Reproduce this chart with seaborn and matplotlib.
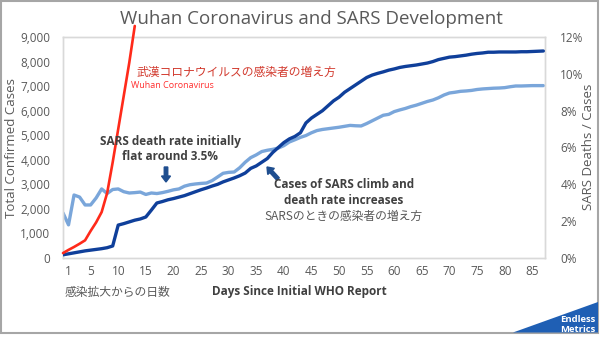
import matplotlib
matplotlib.use("Agg")
import matplotlib.pyplot as plt
import seaborn as sns
import pandas as pd
from matplotlib.patches import FancyArrow, Polygon, Rectangle

# ---------------- data ----------------
days = list(range(88))
sars_cases = [130, 170, 210, 250, 290, 320, 350, 380, 420, 490,
              1340, 1400, 1470, 1540, 1590, 1670, 1950, 2240, 2300, 2370,
              2420, 2480, 2540, 2620, 2700, 2780, 2850, 2930, 3000, 3100,
              3180, 3260, 3350, 3460, 3650, 3750, 3900, 4050, 4300, 4500,
              4700, 4850, 4950, 5100, 5500, 5700, 5850, 6000, 6200, 6400,
              6550, 6750, 6900, 7050, 7200, 7350, 7450, 7520, 7580, 7650,
              7700, 7760, 7800, 7830, 7860, 7900, 7940, 8000, 8080, 8130,
              8180, 8200, 8230, 8260, 8300, 8330, 8350, 8380, 8380, 8390,
              8390, 8390, 8390, 8400, 8400, 8410, 8420, 8430]
sars_death_rate = [2.45, 1.8, 3.42, 3.31, 2.88, 2.88, 3.26, 3.75, 3.5, 3.72,
                   3.75, 3.6, 3.53, 3.55, 3.58, 3.45, 3.53, 3.5, 3.55, 3.62,
                   3.7, 3.75, 3.9, 3.98, 4.02, 4.05, 4.07, 4.2, 4.4, 4.6,
                   4.65, 4.67, 4.9, 5.2, 5.45, 5.6, 5.78, 5.85, 5.9, 5.97,
                   6.1, 6.3, 6.42, 6.55, 6.65, 6.8, 6.92, 6.98, 7.02, 7.06,
                   7.1, 7.15, 7.2, 7.18, 7.17, 7.3, 7.45, 7.6, 7.75, 7.8,
                   7.95, 8.04, 8.12, 8.22, 8.3, 8.4, 8.5, 8.58, 8.7, 8.85,
                   8.96, 9.0, 9.05, 9.07, 9.1, 9.15, 9.18, 9.2, 9.22, 9.23,
                   9.25, 9.3, 9.34, 9.34, 9.35, 9.36, 9.36, 9.36]
wuhan_days = list(range(14))
wuhan_cases = [200, 330, 450, 580, 720, 1100, 1450, 1870, 2650, 3900,
               5250, 6600, 7950, 9450]
x_ticks = [1, 5, 10, 15, 20, 25, 30, 35, 40, 45, 50, 55, 60, 65, 70, 75, 80, 85]
x_tick_labels = [str(t) for t in x_ticks]
y_ticks = [0, 1000, 2000, 3000, 4000, 5000, 6000, 7000, 8000, 9000]
y2_ticks = [0, 2, 4, 6, 8, 10, 12]

sars_df = pd.DataFrame({"day": days, "cases": sars_cases, "rate": sars_death_rate})
wuhan_df = pd.DataFrame({"day": wuhan_days, "cases": wuhan_cases})

# ---------------- style ----------------
sns.set_theme(style="white")
plt.rcParams["font.family"] = ["Open Sans", "Noto Sans CJK JP", "DejaVu Sans"]
GRAY = "#595959"
DARK = "#0f3f9a"
LIGHT = "#7aa6da"
RED = "#ff2a1a"
ARROW = "#1f4e8f"
JP = ["Noto Sans CJK JP", "DejaVu Sans"]

W, H = 600, 337
fig = plt.figure(figsize=(6, 3.37), dpi=100)
fig.patch.set_facecolor("white")

L, R, T, B = 63, 545, 37, 258
ax = fig.add_axes([L / W, 1 - B / H, (R - L) / W, (B - T) / H])
ax2 = ax.twinx()

sns.lineplot(data=sars_df, x="day", y="rate", ax=ax2, color=LIGHT, linewidth=2.4)
sns.lineplot(data=sars_df, x="day", y="cases", ax=ax, color=DARK, linewidth=2.4, zorder=3)
sns.lineplot(data=wuhan_df, x="day", y="cases", ax=ax, color=RED, linewidth=1.9,
             zorder=4, clip_on=False)

ax.set_zorder(ax2.get_zorder() + 1)
ax.patch.set_visible(False)

ax.set_xlim(0, 87.3)
ax.set_ylim(0, 9000)
ax2.set_ylim(0, 12)
ax.set_xticks(x_ticks)
ax.set_xticklabels(x_tick_labels)
ax.set_yticks(y_ticks)
ax.set_yticklabels([f"{v:,}" for v in y_ticks])
ax2.set_yticks(y2_ticks)
ax2.set_yticklabels([f"{v}%" for v in y2_ticks])
ax.set_xlabel("")
ax.set_ylabel("")
ax2.set_ylabel("")
for a in (ax, ax2):
    a.tick_params(length=0, labelsize=8.5, labelcolor=GRAY)
    for s in a.spines.values():
        s.set_color("#d9d9d9")
        s.set_linewidth(1.0)
ax.tick_params(axis="y", pad=9)
ax.tick_params(axis="x", pad=5)
ax2.tick_params(axis="y", pad=11)

# ---------------- overlay (pixel coords) ----------------
ov = fig.add_axes([0, 0, 1, 1], zorder=10)
ov.set_xlim(0, W)
ov.set_ylim(H, 0)
ov.axis("off")
ov.patch.set_visible(False)

ov.add_patch(Rectangle((1, 1), 597, 332, fill=False, edgecolor="#a6a6a6", linewidth=1.5))
ov.add_patch(Polygon([(513, 332.5), (598, 302), (598, 332.5)], closed=True,
                     facecolor="#1f5fb4", edgecolor="none"))
ov.text(578, 320, "Endless", color="white", fontsize=6.8, fontweight="bold",
        ha="center", va="center")
ov.text(578, 329, "Metrics", color="white", fontsize=6.8, fontweight="bold",
        ha="center", va="center")

ov.text(311, 19, "Wuhan Coronavirus and SARS Development", fontsize=13.5,
        color=GRAY, ha="center", va="center")
ov.text(12, 148, "Total Confirmed Cases", fontsize=9.5, color=GRAY,
        rotation=90, ha="center", va="center")
ov.text(589, 147, "SARS Deaths / Cases", fontsize=9.5, color=GRAY,
        rotation=90, ha="center", va="center")
ov.text(299, 291, "Days Since Initial WHO Report", fontsize=8.5, color="#404040",
        fontweight="bold", ha="center", va="center")
ov.text(65, 292, "感染拡大からの日数", fontsize=8.5, color=GRAY,
        ha="left", va="center", family=JP)

ov.text(137, 72, "武漢コロナウイルスの感染者の増え方", fontsize=8.5, color="#d23b2f",
        ha="left", va="center", family=JP)
ov.text(131, 86, "Wuhan Coronavirus", fontsize=6.5, color="#ff3030",
        ha="left", va="center")

ov.text(170, 141, "SARS death rate initially", fontsize=8.5, color="#404040",
        fontweight="bold", ha="center", va="center")
ov.text(170, 157, "flat around 3.5%", fontsize=8.5, color="#404040",
        fontweight="bold", ha="center", va="center")
ov.text(344, 185, "Cases of SARS climb and", fontsize=8.5, color="#404040",
        fontweight="bold", ha="center", va="center")
ov.text(344, 201, "death rate increases", fontsize=8.5, color="#404040",
        fontweight="bold", ha="center", va="center")
ov.text(343, 216, "SARSのときの感染者の増え方", fontsize=8.5, color=GRAY,
        ha="center", va="center", family=JP)

ov.add_patch(FancyArrow(166, 167, 0, 15, width=3.5, head_width=9, head_length=6,
                        length_includes_head=True, color=ARROW))
ov.add_patch(FancyArrow(278, 179, -11, -12, width=3.5, head_width=9, head_length=6,
                        length_includes_head=True, color=ARROW))

fig.savefig("out.png", dpi=100, facecolor="white")
